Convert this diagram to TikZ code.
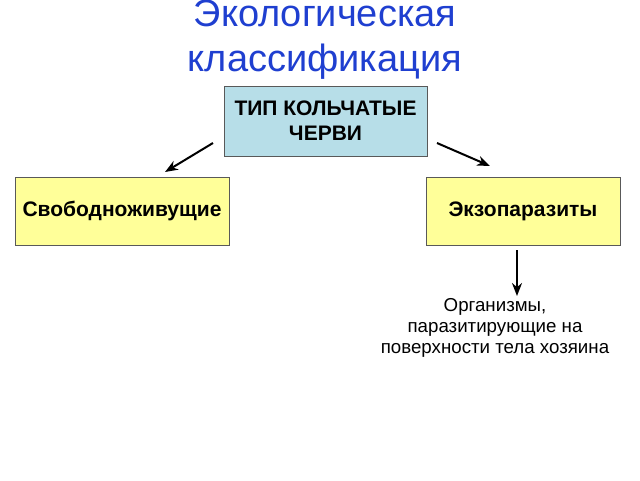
\documentclass[tikz,border=0pt]{standalone}
\usepackage{fontspec}
\setmainfont{Liberation Sans}
\usetikzlibrary{arrows.meta}
\definecolor{titleblue}{HTML}{1F3FD0}
\definecolor{typefill}{HTML}{B7DEE8}
\definecolor{groupfill}{HTML}{FFFF99}
\tikzset{
  typebox/.style={draw=gray!70!black, fill=typefill, minimum width=203pt, minimum height=70pt, align=center, font=\fontsize{21}{25}\selectfont\bfseries},
  groupbox/.style={draw=gray!70!black, fill=groupfill, minimum height=68pt, font=\fontsize{21}{25}\selectfont\bfseries},
  arr/.style={-{Stealth[length=13pt,width=10pt]}, line width=2pt}
}
\begin{document}
\begin{tikzpicture}[x=1pt,y=-1pt]
    \useasboundingbox (0,0) rectangle (640,480);

    %Title
    \node[text=titleblue, align=center, font=\fontsize{38}{45}\selectfont] (title) at (325,40) {Экологическая\\классификация};

    %Boxes
    \node[typebox] (TYPE) at (325.5,121) {ТИП КОЛЬЧАТЫЕ\\ЧЕРВИ};
    \node[groupbox, minimum width=214pt] (FREE) at (122,211) {Свободноживущие};
    \node[groupbox, minimum width=194pt] (ECTO) at (523,211) {Экзопаразиты};

    %Description
    \node[align=center, font=\fontsize{18.7}{21}\selectfont] (DESC) at (495,328) {Организмы,\\ паразитирующие на\\поверхности тела хозяина};

    \coordinate (leftstart) at (213,143);
    \coordinate (leftend) at (165,172);
    \coordinate (rightstart) at (437,143);
    \coordinate (rightend) at (490,166);
    \coordinate (downstart) at (517,250);
    \coordinate (downend) at (517,296);

    \draw[arr] (leftstart) -- (leftend);
    \draw[arr] (rightstart) -- (rightend);
    \draw[arr] (downstart) -- (downend);
\end{tikzpicture}
\end{document}
